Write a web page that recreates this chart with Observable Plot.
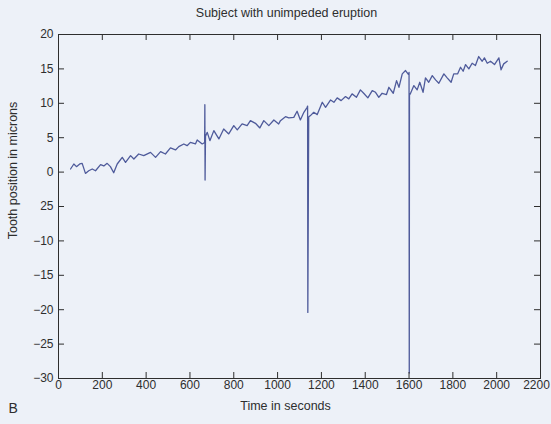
<!DOCTYPE html>
<html><head><meta charset="utf-8">
<script src="https://cdn.jsdelivr.net/npm/d3@7"></script>
<script src="https://cdn.jsdelivr.net/npm/@observablehq/plot@0.6"></script>
<style>
html,body{margin:0;padding:0;background:#edf1f8;}
#chart{width:551px;height:424px;}
svg{display:block;}
</style></head><body><div id="chart"></div>
<script>
const timeSeconds = [55,70,82,97,108,123,138,154,169,192,207,222,237,252,268,291,306,329,344,366,389,420,443,466,488,511,534,549,572,587,602,625,633,656,667,668,669,671,679,691,709,732,754,777,800,816,838,861,876,899,919,937,960,983,1005,1013,1036,1051,1074,1089,1104,1120,1135,1137,1138,1142,1150,1165,1181,1204,1219,1242,1257,1272,1290,1310,1325,1340,1360,1378,1393,1412,1432,1447,1462,1477,1497,1508,1528,1543,1554,1569,1584,1597,1600,1601,1602,1606,1622,1637,1649,1664,1675,1690,1706,1721,1736,1759,1774,1792,1804,1822,1835,1847,1858,1873,1888,1903,1918,1934,1944,1957,1972,1990,2010,2020,2032,2048];
const toothPosition = [0.45,1.18,0.79,1.18,1.27,-0.19,0.2,0.45,0.2,1.08,0.89,1.27,0.79,-0.09,1.18,2.14,1.41,2.39,1.91,2.63,2.39,2.87,2.14,2.97,2.63,3.51,3.22,3.7,4.09,3.84,4.32,4.09,4.67,4.09,4.3,9.8,-1.15,5.2,5.78,4.57,6.03,4.82,6.27,5.55,6.75,6.13,7.0,6.75,7.48,7.09,6.42,7.48,6.75,7.58,7.0,7.48,8.06,7.87,7.96,8.84,7.58,8.69,9.42,9.6,-20.4,8.0,8.21,8.69,8.36,10.15,9.42,10.49,10.15,10.79,10.39,10.98,10.64,11.37,10.87,11.95,11.46,10.79,11.85,11.6,10.87,11.46,11.27,12.33,11.46,13.3,12.33,14.28,14.76,14.2,14.5,-29.2,11.2,11.4,12.58,11.95,13.06,11.6,13.7,13.06,14.03,13.4,12.91,14.28,13.7,13.06,14.28,14.28,15.24,14.66,15.63,15.0,15.82,15.49,16.8,16.11,16.6,15.82,16.11,15.63,16.6,14.86,15.73,16.11];
const xTickValues = [0,200,400,600,800,1000,1200,1400,1600,1800,2000,2200];
const yTickValues = [-30,-25,-20,-15,-10,-5,0,5,10,15,20];
const yTickLabels = ["\u221230","\u221225","\u221220","\u221215","\u221210","25","0","5","10","15","20"];
const titleText = "Subject with unimpeded eruption";
const xLabel = "Time in seconds";
const yLabel = "Tooth position in microns";
const panelLetter = "B";

const W = 551, H = 424, mL = 58, mR = 11, mT = 34, mB = 46;
const fw = W - mL - mR, fh = H - mT - mB;
const data = timeSeconds.map((t, i) => ({t, v: toothPosition[i]}));
const innerX = xTickValues.slice(1, -1), innerY = yTickValues.slice(1, -1);
const yLab = new Map(yTickValues.map((v, i) => [v, yTickLabels[i]]));
const ink = "#2e2e2e";
const fmtX = d => String(d);

const plot = Plot.plot({
  width: W, height: H, marginLeft: mL, marginRight: mR, marginTop: mT, marginBottom: mB,
  style: {background: "transparent", fontFamily: "'Liberation Sans', Arial, sans-serif", fontSize: "12px", color: ink},
  x: {domain: [0, 2200]},
  y: {domain: [-30, 20]},
  marks: [
    Plot.line(data, {x: "t", y: "v", stroke: "#4f5b9b", strokeWidth: 1.3}),
    Plot.tickX(innerX, {x: d => d, insetTop: fh - 6, stroke: ink}),
    Plot.tickX(innerX, {x: d => d, insetBottom: fh - 6, stroke: ink}),
    Plot.tickY(innerY, {y: d => d, insetRight: fw - 6, stroke: ink}),
    Plot.tickY(innerY, {y: d => d, insetLeft: fw - 6, stroke: ink}),
    Plot.frame({stroke: ink}),
    Plot.axisX(xTickValues.slice(0, -1), {anchor: "bottom", tickSize: 0, tickPadding: 2, label: null, fontSize: 12, tickFormat: fmtX}),
    Plot.axisX(xTickValues.slice(-1), {anchor: "bottom", tickSize: 0, tickPadding: 2, label: null, fontSize: 12, tickFormat: fmtX, dx: -4}),
    Plot.axisY(yTickValues, {anchor: "left", tickSize: 0, tickPadding: 5, label: null, fontSize: 12, tickFormat: d => yLab.get(d)}),
    Plot.text([titleText], {text: d => d, frameAnchor: "top", textAnchor: "middle", lineAnchor: "middle", dx: -13, dy: -22, fontSize: 12.5, fill: ink}),
    Plot.text([xLabel], {text: d => d, frameAnchor: "bottom", textAnchor: "middle", lineAnchor: "middle", dx: -14, dy: 27.5, fontSize: 12.5, fill: ink}),
    Plot.text([yLabel], {text: d => d, frameAnchor: "left", textAnchor: "middle", lineAnchor: "middle", rotate: -90, dx: -46, dy: -36, fontSize: 12.5, fill: ink}),
    Plot.text([panelLetter], {text: d => d, frameAnchor: "bottom-left", textAnchor: "start", lineAnchor: "middle", dx: -50, dy: 30, fontSize: 14, fill: ink})
  ]
});
document.getElementById("chart").append(plot);
</script>
</body></html>
